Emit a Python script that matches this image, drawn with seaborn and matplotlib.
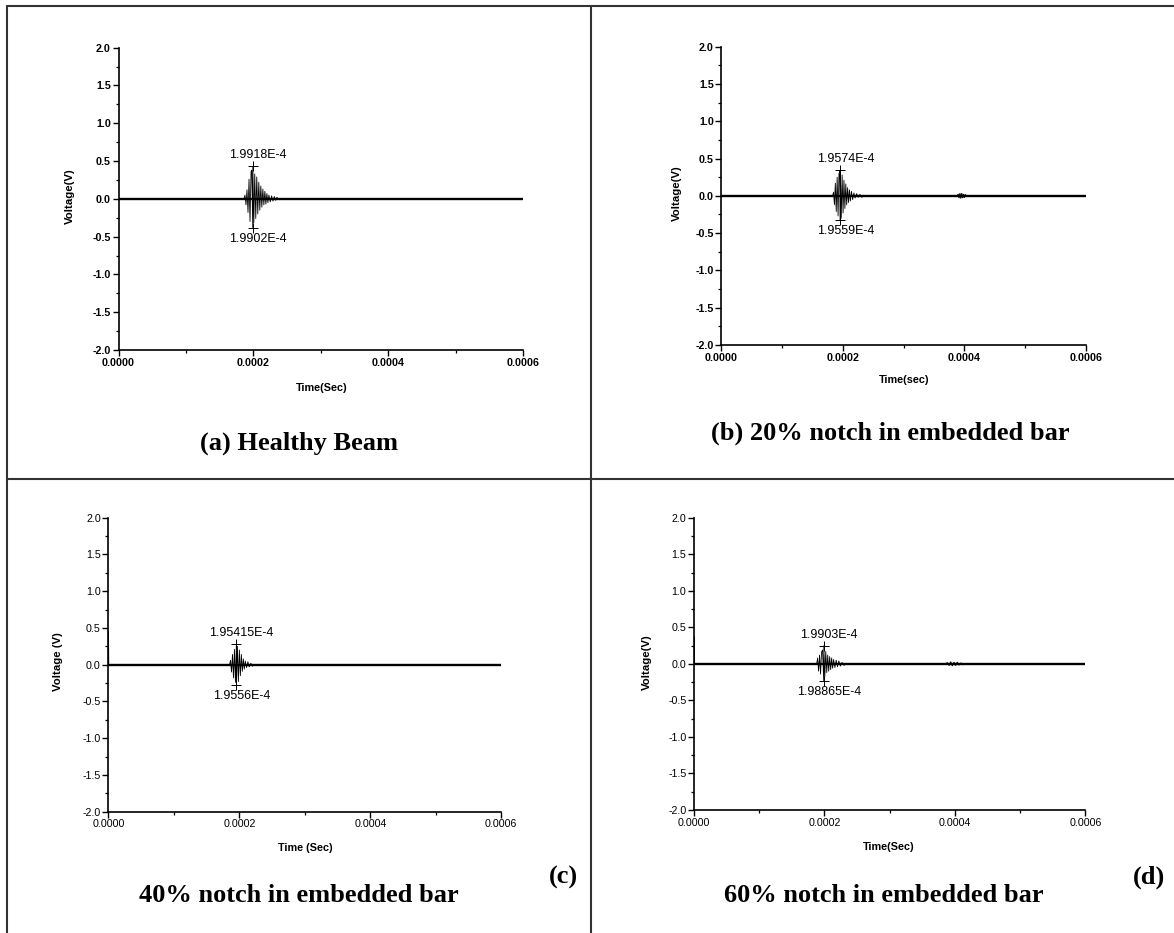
import numpy as np
import pandas as pd
import matplotlib
matplotlib.use("Agg")
import matplotlib.pyplot as plt
import seaborn as sns
from matplotlib.ticker import FixedLocator, MultipleLocator, FormatStrFormatter
from matplotlib.lines import Line2D

# ---------------- data (times in microseconds, voltages in V) ----------------
baseline_t = [0.0, 600.0]
baseline_v = [0.0, 0.0]

burst_a_t = [186.0, 187.5, 189.0, 190.5, 192.0, 193.5, 195.0, 196.5, 197.6, 199.02, 199.18,
             200.6, 202.0, 203.5, 205.0, 206.5, 208.0, 209.5, 211.0, 212.5, 214.0, 215.5,
             217.0, 218.5, 220.0, 221.5, 223.0, 225.0, 227.0, 229.0, 231.0, 233.0, 235.0, 237.0]
burst_a_v = [0.00, 0.05, -0.08, 0.12, -0.18, 0.26, -0.30, 0.36, 0.38, -0.38, 0.43,
             -0.32, 0.33, -0.26, 0.29, -0.20, 0.22, -0.15, 0.17, -0.11, 0.13, -0.08,
             0.10, -0.07, 0.07, -0.05, 0.05, -0.04, 0.04, -0.03, 0.03, -0.02, 0.02, 0.00]

burst_b_t = [183.0, 184.5, 186.0, 187.5, 189.0, 190.5, 192.0, 193.5, 194.8, 195.59, 195.74,
             197.2, 198.7, 200.2, 201.7, 203.2, 204.7, 206.2, 207.7, 209.2, 210.7, 212.2,
             214.0, 216.0, 218.0, 220.0, 222.5, 225.0, 228.0, 231.0, 234.0]
burst_b_v = [0.00, 0.05, -0.12, 0.17, -0.21, 0.25, -0.27, 0.30, 0.33, -0.33, 0.35,
             -0.30, 0.28, -0.23, 0.21, -0.17, 0.16, -0.12, 0.11, -0.09, 0.08, -0.07,
             0.06, -0.05, 0.04, -0.03, 0.03, -0.02, 0.02, -0.02, 0.00]
echo_b_t = [388.0, 389.5, 391.0, 392.5, 394.0, 395.5, 397.0, 398.5, 400.0, 401.5, 403.0]
echo_b_v = [0.00, 0.02, -0.025, 0.03, -0.03, 0.03, -0.025, 0.02, -0.02, 0.015, 0.00]

burst_c_t = [0.0, 0.2, 0.6, 185.0, 186.5, 188.0, 189.5, 191.0, 192.5, 194.0, 195.415, 195.56,
             197.0, 198.5, 200.0, 201.5, 203.0, 204.5, 206.0, 207.5, 209.0, 211.0, 213.0,
             215.0, 217.5, 220.0, 222.0]
burst_c_v = [0.00, 0.45, 0.00, 0.00, 0.06, -0.10, 0.14, -0.18, 0.21, -0.24, 0.28, -0.27,
             0.25, -0.23, 0.20, -0.15, 0.14, -0.09, 0.08, -0.06, 0.05, -0.04, 0.04,
             -0.03, 0.02, -0.02, 0.00]

burst_d_t = [0.0, 0.2, 0.6, 188.0, 189.5, 191.0, 192.5, 194.0, 195.5, 197.0, 198.865, 199.03,
             200.5, 202.0, 203.5, 205.0, 206.5, 208.0, 209.5, 211.0, 212.5, 214.0, 216.0,
             218.0, 220.0, 222.0, 224.5, 227.0, 230.0, 233.0]
burst_d_v = [0.00, 0.37, 0.00, 0.00, 0.08, -0.10, 0.12, -0.14, 0.16, 0.19, -0.23, 0.25,
             -0.18, 0.17, -0.12, 0.12, -0.10, 0.10, -0.08, 0.08, -0.06, 0.06, -0.05,
             0.05, -0.04, 0.04, -0.03, 0.02, -0.02, 0.00]
echo_d_t = [386.0, 388.5, 391.0, 393.5, 396.0, 398.5, 401.0, 403.5, 406.0, 409.0, 412.0, 415.0]
echo_d_v = [0.00, 0.015, -0.02, 0.025, -0.025, 0.02, -0.02, 0.02, -0.015, 0.01, -0.01, 0.00]

peak_a = (199.18, 0.43, "1.9918E-4");  trough_a = (199.02, -0.38, "1.9902E-4")
peak_b = (195.74, 0.35, "1.9574E-4");  trough_b = (195.59, -0.33, "1.9559E-4")
peak_c = (195.415, 0.28, "1.95415E-4"); trough_c = (195.56, -0.27, "1.9556E-4")
peak_d = (199.03, 0.25, "1.9903E-4");  trough_d = (198.865, -0.23, "1.98865E-4")

x_ticks = [0.0000, 0.0002, 0.0004, 0.0006]
y_ticks = [-2.0, -1.5, -1.0, -0.5, 0.0, 0.5, 1.0, 1.5, 2.0]

titles = ["(a) Healthy Beam", "(b) 20% notch in embedded bar",
          "40% notch in embedded bar", "60% notch in embedded bar"]
xlabels = ["Time(Sec)", "Time(sec)", "Time (Sec)", "Time(Sec)"]
ylabels = ["Voltage(V)", "Voltage(V)", "Voltage (V)", "Voltage(V)"]
letters = [None, None, "(c)", "(d)"]

# ---------------- figure ----------------
sns.set_style("ticks")
plt.rcParams["font.family"] = ["Liberation Sans", "DejaVu Sans"]
plt.rcParams["text.color"] = "black"
plt.rcParams["axes.labelcolor"] = "black"

W, H = 1174, 933
fig = plt.figure(figsize=(W / 100, H / 100), dpi=100)


def fx(x):
    return x / W


def fy(y):
    return 1 - y / H


# axes rectangles in pixels: x0, x1, ytop, ybot
rects = [(118.6, 523.0, 47.7, 350.0),
         (721.4, 1086.0, 46.7, 345.0),
         (108.4, 501.3, 517.7, 811.7),
         (694.0, 1085.4, 517.7, 810.0)]
xlabel_pos = [(322, 388), (904, 380), (305, 848), (889, 847)]
ylabel_pos = [(70, 196), (677, 193), (58, 662), (647, 662)]
title_pos = [(299, 443), (890, 433), (299, 895), (884, 895)]
letter_pos = [None, None, (563, 877), (1149, 877)]
bold_ticks = [True, True, False, False]

bursts = [(burst_a_t, burst_a_v, None, None, peak_a, trough_a),
          (burst_b_t, burst_b_v, echo_b_t, echo_b_v, peak_b, trough_b),
          (burst_c_t, burst_c_v, None, None, peak_c, trough_c),
          (burst_d_t, burst_d_v, echo_d_t, echo_d_v, peak_d, trough_d)]

for i in range(4):
    x0, x1, yt, yb = rects[i]
    ax = fig.add_axes([fx(x0), fy(yb), (x1 - x0) / W, (yb - yt) / H])
    bt, bv, et, ev, pk, tr = bursts[i]

    df_base = pd.DataFrame({"t": np.array(baseline_t) * 1e-6, "v": baseline_v})
    sns.lineplot(data=df_base, x="t", y="v", ax=ax, color="black", lw=1.7,
                 estimator=None, sort=False)
    df_b = pd.DataFrame({"t": np.array(bt) * 1e-6, "v": bv})
    sns.lineplot(data=df_b, x="t", y="v", ax=ax, color="black", lw=0.6,
                 estimator=None, sort=False)
    if et is not None:
        df_e = pd.DataFrame({"t": np.array(et) * 1e-6, "v": ev})
        sns.lineplot(data=df_e, x="t", y="v", ax=ax, color="black", lw=0.9,
                     estimator=None, sort=False)

    for (pt, pv, lab), dy in ((pk, 11), (tr, -11)):
        ax.plot([pt * 1e-6], [pv], marker="+", ls="none", ms=7, mew=0.7, color="black")
        ax.annotate(lab, xy=(pt * 1e-6, pv), xytext=(5, dy), textcoords="offset pixels",
                    ha="center", va="center", fontsize=9, color="black")

    ax.set_xlim(0, 0.0006)
    ax.set_ylim(-2, 2)
    ax.xaxis.set_major_locator(FixedLocator(x_ticks))
    ax.xaxis.set_minor_locator(MultipleLocator(0.0001))
    ax.yaxis.set_major_locator(FixedLocator(y_ticks))
    ax.yaxis.set_minor_locator(MultipleLocator(0.25))
    ax.xaxis.set_major_formatter(FormatStrFormatter("%.4f"))
    ax.yaxis.set_major_formatter(FormatStrFormatter("%.1f"))
    sns.despine(ax=ax)
    for s in ("left", "bottom"):
        ax.spines[s].set_linewidth(1.2)
        ax.spines[s].set_color("black")
    ax.tick_params(which="major", direction="out", length=4, width=1, pad=1.5,
                   labelsize=7.7, colors="black")
    ax.tick_params(which="minor", direction="out", length=2.5, width=0.9, colors="black")
    if bold_ticks[i]:
        for lab in ax.get_xticklabels() + ax.get_yticklabels():
            lab.set_fontweight("bold")

    ax.set_xlabel(xlabels[i], fontsize=7.8, fontweight="bold")
    ax.set_ylabel(ylabels[i], fontsize=8.2, fontweight="bold")
    ax.xaxis.set_label_coords(fx(xlabel_pos[i][0]), fy(xlabel_pos[i][1]), transform=fig.transFigure)
    ax.xaxis.label.set_va("center")
    ax.yaxis.set_label_coords(fx(ylabel_pos[i][0]), fy(ylabel_pos[i][1]), transform=fig.transFigure)
    ax.yaxis.label.set_va("center")
    ax.patch.set_alpha(0)

    fig.text(fx(title_pos[i][0]), fy(title_pos[i][1]), titles[i], ha="center", va="center",
             fontsize=19, fontweight="bold", color="black",
             family=["Liberation Serif", "DejaVu Serif"])
    if letters[i]:
        fig.text(fx(letter_pos[i][0]), fy(letter_pos[i][1]), letters[i], ha="center", va="center",
                 fontsize=19, fontweight="bold", color="black",
                 family=["Liberation Serif", "DejaVu Serif"])

# panel frame lines
border_kw = dict(color="#333333", lw=1.5, transform=fig.transFigure)
fig.add_artist(Line2D([fx(7), fx(7)], [fy(6), fy(933)], **border_kw))
fig.add_artist(Line2D([fx(7), fx(1174)], [fy(6), fy(6)], **border_kw))
fig.add_artist(Line2D([fx(591), fx(591)], [fy(6), fy(933)], **border_kw))
fig.add_artist(Line2D([fx(7), fx(1174)], [fy(479), fy(479)], **border_kw))

fig.savefig("out.png", dpi=100)
